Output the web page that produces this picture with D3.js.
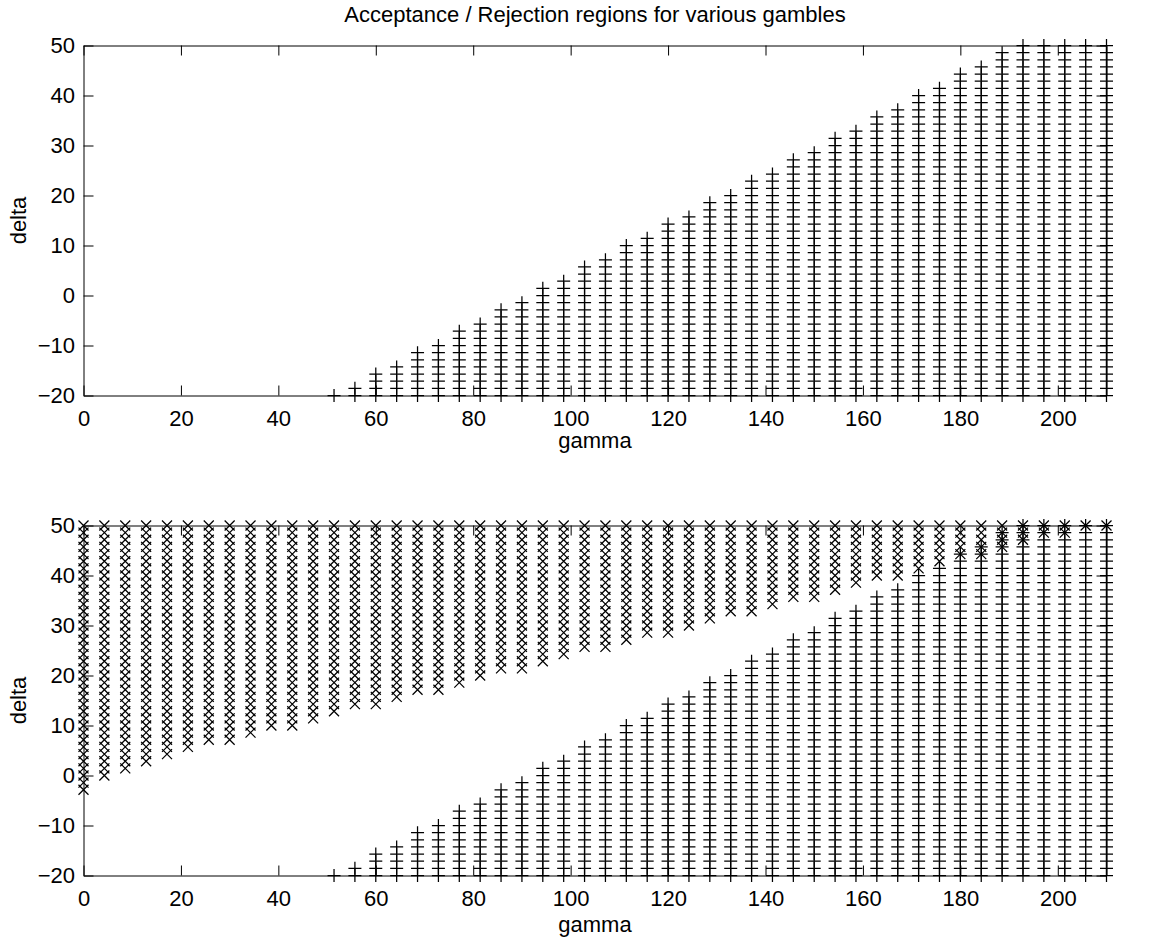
<!DOCTYPE html>
<html><head><meta charset="utf-8">
<script src="https://cdn.jsdelivr.net/npm/d3@7"></script>
<style>
body{margin:0;background:#fff}
svg{display:block}
text{font-family:"Liberation Sans",Arial,Helvetica,sans-serif;fill:#000}
</style>
</head><body>
<svg id="chart" width="1149" height="942"></svg>
<script>
// grid of gambles
const gammaValues=[0,4.286,8.571,12.857,17.143,21.429,25.714,30,34.286,38.571,
42.857,47.143,51.429,55.714,60,64.286,68.571,72.857,77.143,81.429,
85.714,90,94.286,98.571,102.857,107.143,111.429,115.714,120,124.286,
128.571,132.857,137.143,141.429,145.714,150,154.286,158.571,162.857,167.143,
171.429,175.714,180,184.286,188.571,192.857,197.143,201.429,205.714,210];
const deltaValues=[-20,-18.571,-17.143,-15.714,-14.286,-12.857,-11.429,-10,-8.571,-7.143,
-5.714,-4.286,-2.857,-1.429,0,1.429,2.857,4.286,5.714,7.143,
8.571,10,11.429,12.857,14.286,15.714,17.143,18.571,20,21.429,
22.857,24.286,25.714,27.143,28.571,30,31.429,32.857,34.286,35.714,
37.143,38.571,40,41.429,42.857,44.286,45.714,47.143,48.571,50];
// highest accepted delta ("+") for each gamma column (null = none)
const acceptMaxDelta=[null,null,null,null,null,null,null,null,null,null,null,null,
-20,-18.571,-15.714,-14.286,-11.429,-10,-7.143,-5.714,-2.857,-1.429,
1.429,2.857,5.714,7.143,10,11.429,14.286,15.714,18.571,20,
22.857,24.286,27.143,28.571,31.429,32.857,35.714,37.143,40,41.429,
44.286,45.714,48.571,50,50,50,50,50];
// lowest rejected delta ("x") for each gamma column
const rejectMinDelta=[-2.857,0,1.429,2.857,4.286,5.714,7.143,7.143,8.571,10,
10,11.429,12.857,14.286,14.286,15.714,17.143,17.143,18.571,20,
21.429,21.429,22.857,24.286,25.714,25.714,27.143,28.571,28.571,30,
31.429,32.857,32.857,34.286,35.714,35.714,37.143,38.571,40,40,
41.429,42.857,44.286,44.286,45.714,47.143,48.571,48.571,50,50];
const xTicks=[0,20,40,60,80,100,120,140,160,180,200];
const yTicks=[-20,-10,0,10,20,30,40,50];
const titleText="Acceptance / Rejection regions for various gambles";
const xLabel="gamma", yLabel="delta";

const svg=d3.select("#chart");
const FS=22;
const x=d3.scaleLinear().domain([0,210]).range([83.5,1106.5]);
const panels=[
  {top:45.5,bottom:395.5,reject:false,title:true},
  {top:525.5,bottom:875.5,reject:true,title:false}
];
const tol=1e-3;
const plusPath=(cx,cy)=>`M${cx-6.5},${cy}h13M${cx},${cy-6.5}v13`;
const xPath=(cx,cy)=>`M${cx-5},${cy-5}l10,10M${cx-5},${cy+5}l10,-10`;

panels.forEach(p=>{
  const y=d3.scaleLinear().domain([-20,50]).range([p.bottom,p.top]);
  const g=svg.append("g");
  const styleAxis=sel=>{
    sel.attr("font-size",FS).attr("font-family",null);
    sel.selectAll("path,line").attr("stroke","#000").attr("stroke-width",1);
    sel.selectAll("text").attr("fill","#000");
  };
  g.append("g").attr("transform",`translate(0,${p.bottom})`)
    .call(d3.axisBottom(x).tickValues(xTicks).tickSizeInner(-10).tickSizeOuter(0).tickPadding(14.5))
    .call(styleAxis);
  g.append("g").attr("transform",`translate(0,${p.top})`)
    .call(d3.axisTop(x).tickValues(xTicks).tickSizeInner(-10).tickSizeOuter(0).tickFormat(""))
    .call(styleAxis);
  g.append("g").attr("transform",`translate(${x(0)},0)`)
    .call(d3.axisLeft(y).tickValues(yTicks).tickSizeInner(-10).tickSizeOuter(0).tickPadding(8.5))
    .call(styleAxis);
  g.append("g").attr("transform",`translate(${x(210)},0)`)
    .call(d3.axisRight(y).tickValues(yTicks).tickSizeInner(-10).tickSizeOuter(0).tickFormat(""))
    .call(styleAxis);

  const plusPts=[], xPts=[];
  gammaValues.forEach((gv,i)=>{
    deltaValues.forEach(dv=>{
      if(acceptMaxDelta[i]!==null && dv<=acceptMaxDelta[i]+tol) plusPts.push([gv,dv]);
      if(p.reject && dv>=rejectMinDelta[i]-tol) xPts.push([gv,dv]);
    });
  });
  g.append("g").selectAll("path.plus").data(plusPts).join("path")
    .attr("class","plus").attr("d",d=>plusPath(x(d[0]),y(d[1])))
    .attr("fill","none").attr("stroke","#000").attr("stroke-width",1.25);
  g.append("g").selectAll("path.xm").data(xPts).join("path")
    .attr("class","xm").attr("d",d=>xPath(x(d[0]),y(d[1])))
    .attr("fill","none").attr("stroke","#000").attr("stroke-width",1.25);

  g.append("text").attr("x",(x(0)+x(210))/2).attr("y",p.bottom+(p.title?52.5:56.5))
    .attr("text-anchor","middle").attr("font-size",FS).text(xLabel);
  g.append("text").attr("transform",`translate(26,${(p.top+p.bottom)/2}) rotate(-90)`)
    .attr("text-anchor","middle").attr("font-size",FS).text(yLabel);
  if(p.title){
    svg.append("text").attr("x",(x(0)+x(210))/2).attr("y",22)
      .attr("text-anchor","middle").attr("font-size",FS).text(titleText);
  }
});
</script>
</body></html>
